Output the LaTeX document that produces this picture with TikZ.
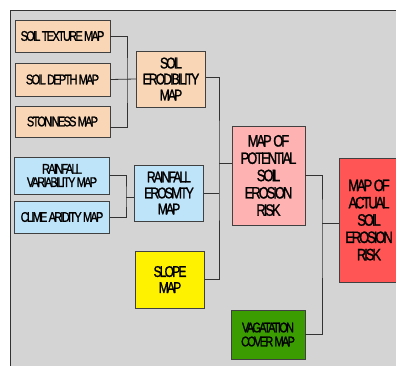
\documentclass[tikz,border=0pt]{standalone}
\usepackage{fontspec}
\newfontfamily\mapfont[FakeStretch=0.78,LetterSpace=-12,FakeBold=1.2]{Liberation Sans}
\definecolor{bggray}{RGB}{212,212,212}
\definecolor{peach}{RGB}{249,214,182}
\definecolor{skyblue}{RGB}{190,228,250}
\definecolor{rose}{RGB}{255,178,178}
\definecolor{redrisk}{RGB}{255,85,85}
\definecolor{leaf}{RGB}{58,156,0}

\begin{document}
\begin{tikzpicture}[x=1pt,y=-1pt,
  box/.style={draw=black!75,line width=0.8pt,align=center,inner sep=0pt},
  small/.style={box,minimum width=95pt,font=\mapfont\fontsize{14}{13.3}\selectfont},
  mid/.style={box,minimum width=69pt,minimum height=56pt,font=\mapfont\fontsize{15.5}{16}\selectfont},
  big/.style={box,font=\mapfont\fontsize{16.5}{17.3}\selectfont},
  wire/.style={draw=black!80,line width=0.8pt}]
\useasboundingbox (0,0) rectangle (396,366);
\fill[bggray] (10,10) rectangle (396,366);
\draw[black!80,line width=0.8pt] (10,366) -- (10,10) -- (396,10);
% input maps
\node[small,fill=peach,minimum height=32pt] (tex) at (62.5,36) {SOIL TEXTURE MAP};
\node[small,fill=peach,minimum height=33pt] (dep) at (62.5,79.5) {SOIL DEPTH MAP};
\node[small,fill=peach,minimum height=31pt] (ston) at (62.5,121.5) {STONINESS MAP};
\node[small,fill=skyblue,minimum height=37pt] (rvar) at (62,175.5) {RAINFALL\\VARIABILITY MAP};
\node[small,fill=skyblue,minimum height=32pt] (clim) at (62,217) {CLIME ARIDITY MAP};
% factor maps
\node[mid,fill=peach] (erod) at (171,79) {SOIL\\ERODIBILITY\\MAP};
\node[mid,fill=skyblue] (eros) at (169,193) {RAINFALL\\EROSIVITY\\MAP};
\node[mid,fill=yellow,minimum height=57pt] (slope) at (170,279.5) {SLOPE\\MAP};
\node[big,fill=rose,minimum width=73pt,minimum height=99pt] (pot) at (268.5,175.5) {MAP OF\\POTENTIAL\\SOIL\\EROSION\\RISK};
\node[mid,fill=leaf,minimum width=74pt,minimum height=49pt,font=\mapfont\fontsize{14}{14}\selectfont] (veg) at (268,334.5) {VAGATATION\\COVER MAP};
\node[big,fill=redrisk,minimum width=60pt,minimum height=124pt] (act) at (369,220) {MAP OF\\ACTUAL\\SOIL\\EROSION\\RISK};
% connectors
\coordinate (ja) at (127,79);
\coordinate (jb) at (126,197);
\coordinate (jc) at (219,163);
\coordinate (jd) at (322,223);
\draw[wire] (tex.east) -| (ja) |- ([yshift=-6pt]ston.east);
\draw[wire] (dep.east) -- (erod.west);
\draw[wire] (rvar.east) -| (jb) |- (clim.east);
\draw[wire] (jb) -- (jb -| eros.west);
\draw[wire] ([yshift=2pt]erod.east) -| (jc) |- (slope.east);
\draw[wire] (eros.east) -- (eros.east -| jc);
\draw[wire] (jc) -- (jc -| pot.west);
\draw[wire] (pot.east) -| (jd) |- (veg.east);
\draw[wire] (jd) -- (jd -| act.west);
\end{tikzpicture}
\end{document}
